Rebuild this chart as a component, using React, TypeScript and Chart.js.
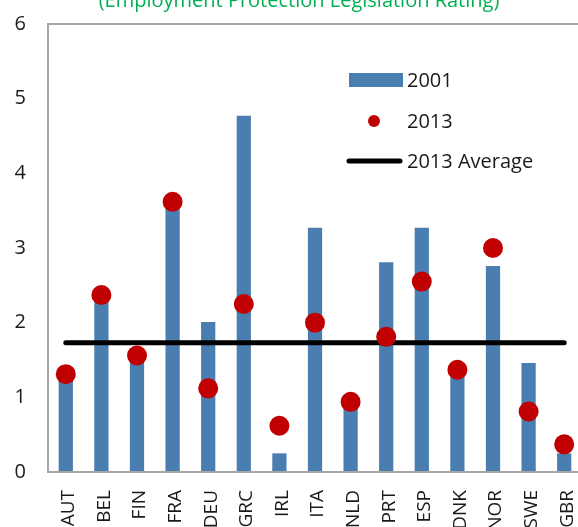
import React, { useEffect, useRef } from "react";
import { Chart, registerables } from "chart.js";
Chart.register(...registerables);

const categories = ["AUT", "BEL", "FIN", "FRA", "DEU", "GRC", "IRL", "ITA", "NLD", "PRT", "ESP", "DNK", "NOR", "SWE", "GBR"];
const values2001 = [1.27, 2.33, 1.52, 3.57, 2.01, 4.77, 0.25, 3.27, 0.92, 2.81, 3.27, 1.35, 2.76, 1.46, 0.25];
const values2013 = [1.31, 2.37, 1.56, 3.62, 1.12, 2.25, 0.62, 2.0, 0.94, 1.81, 2.55, 1.37, 3.0, 0.81, 0.37];
const average2013 = 1.73;
const seriesLabels = ["2001", "2013", "2013 Average"];
const titleText = "(Employment Protection Legislation Rating)";
const yMin = 0;
const yMax = 6;
const yStep = 1;

const FONT = "'Open Sans', 'Noto Sans', sans-serif";
const BAR_COLOR = "#4A7EB0";
const DOT_COLOR = "#C00000";
const LINE_COLOR = "#000000";

const frameAndLegend = {
  id: "frameAndLegend",
  afterDatasetsDraw(chart: any) {
    const { ctx, chartArea } = chart;
    ctx.save();
    ctx.strokeStyle = "#a6a6a6";
    ctx.lineWidth = 2;
    ctx.strokeRect(chartArea.left, chartArea.top, chartArea.right - chartArea.left, chartArea.bottom - chartArea.top);
    ctx.restore();
  },
  afterDraw(chart: any) {
    const { ctx, chartArea } = chart;
    const ds = chart.data.datasets;
    const L = chartArea.left;
    const T = chartArea.top;
    ctx.save();
    // title (top part cropped off, as in the reference)
    ctx.fillStyle = "#00B050";
    ctx.font = `20px ${FONT}`;
    ctx.textAlign = "center";
    ctx.textBaseline = "alphabetic";
    ctx.fillText(titleText, L + 251, T - 17);

    const textX = L + 359;
    const rows = [T + 56, T + 97, T + 137];
    // bar swatch
    ctx.fillStyle = BAR_COLOR;
    ctx.fillRect(L + 301, rows[0] - 7, 54, 14);
    // dot
    ctx.fillStyle = DOT_COLOR;
    ctx.beginPath();
    ctx.arc(L + 326, rows[1], 6, 0, Math.PI * 2);
    ctx.fill();
    // line
    ctx.strokeStyle = LINE_COLOR;
    ctx.lineWidth = 5;
    ctx.lineCap = "round";
    ctx.beginPath();
    ctx.moveTo(L + 301, rows[2]);
    ctx.lineTo(L + 352, rows[2]);
    ctx.stroke();
    // texts
    ctx.fillStyle = "#1a1a1a";
    ctx.font = `20px ${FONT}`;
    ctx.textBaseline = "middle";
    ctx.textAlign = "left";
    [0, 1, 2].forEach((i, k) => {
      ctx.fillText(ds[i].label, textX, rows[k] + 1);
    });
    ctx.restore();
  },
};

export default function App() {
  const ref = useRef<HTMLCanvasElement>(null);
  useEffect(() => {
    if (!ref.current) return;
    const chart = new Chart(ref.current, {
      type: "bar",
      data: {
        labels: categories,
        datasets: [
          {
            type: "bar",
            label: seriesLabels[0],
            data: values2001,
            backgroundColor: BAR_COLOR,
            borderWidth: 0,
            barPercentage: 0.4,
            categoryPercentage: 1,
            order: 3,
          },
          {
            type: "line",
            label: seriesLabels[1],
            data: values2013,
            showLine: false,
            pointRadius: 10,
            pointBackgroundColor: DOT_COLOR,
            pointBorderWidth: 0,
            borderColor: DOT_COLOR,
            order: 1,
          },
          {
            type: "line",
            label: seriesLabels[2],
            data: categories.map(() => average2013),
            borderColor: LINE_COLOR,
            borderWidth: 5,
            borderCapStyle: "round",
            pointRadius: 0,
            order: 2,
          },
        ] as any,
      },
      options: {
        animation: false,
        responsive: false,
        devicePixelRatio: 1,
        layout: { padding: { left: 0, right: 10, top: 44, bottom: 0 } },
        plugins: {
          legend: { display: false },
          tooltip: { enabled: false },
          title: { display: false },
        },
        scales: {
          x: {
            grid: { display: false, drawTicks: false },
            border: { display: false },
            ticks: {
              autoSkip: false,
              minRotation: 90,
              maxRotation: 90,
              padding: 18,
              labelOffset: 3,
              color: "#1a1a1a",
              font: { family: FONT, size: 19 },
            },
            afterFit(scale: any) {
              scale.height = 68;
              scale.paddingLeft = 0;
              scale.paddingRight = 0;
            },
          },
          y: {
            min: yMin,
            max: yMax,
            grid: { display: false, drawTicks: false },
            border: { display: false },
            ticks: {
              stepSize: yStep,
              padding: 22,
              color: "#1a1a1a",
              font: { family: FONT, size: 20 },
            },
            afterFit(scale: any) {
              scale.width = 48;
            },
          },
        },
      },
      plugins: [frameAndLegend],
    });
    return () => chart.destroy();
  }, []);
  return (
    <div style={{ position: "fixed", left: 0, top: 0, width: 578, height: 527, overflow: "hidden", background: "#fff" }}>
      <canvas ref={ref} width={592} height={560} style={{ position: "absolute", left: 0, top: -20, width: 592, height: 560 }} />
    </div>
  );
}
